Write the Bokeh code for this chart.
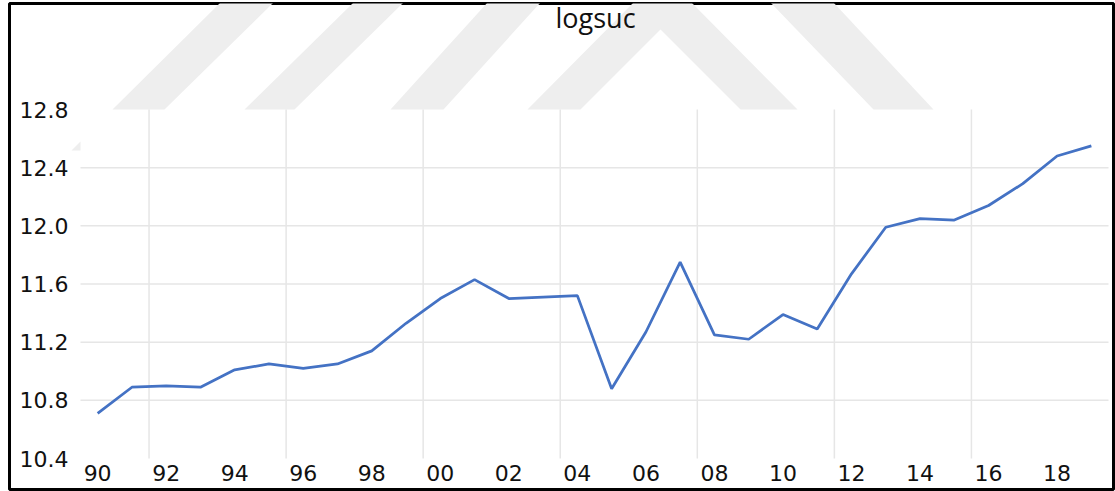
from bokeh.plotting import figure
from bokeh.models import Range1d, FixedTicker, PrintfTickFormatter, PolyAnnotation, ColumnDataSource
from bokeh.embed import file_html
from bokeh.resources import INLINE

# ---- data ----
years = list(range(1990, 2020))
logsuc = [10.71, 10.89, 10.90, 10.89, 11.01, 11.05, 11.02, 11.05, 11.14, 11.33,
          11.50, 11.63, 11.50, 11.51, 11.52, 10.88, 11.27, 11.75, 11.25, 11.22,
          11.39, 11.29, 11.67, 11.99, 12.05, 12.04, 12.14, 12.29, 12.48, 12.55]
x_tick_years = list(range(1990, 2019, 2))
x_tick_labels = ["90", "92", "94", "96", "98", "00", "02", "04",
                 "06", "08", "10", "12", "14", "16", "18"]
y_ticks = [10.4, 10.8, 11.2, 11.6, 12.0, 12.4, 12.8]
title_text = "logsuc"

# ---- layout (canvas pixels) ----
W, H = 1115, 491
box = dict(left=9, top=3, right=1113, bottom=489)        # black chart border = plot frame
inner = dict(left=80, top=109, right=1108, bottom=458)   # gridded plotting area

x0, x1 = years[0] - 0.5, years[-1] + 0.5
y0, y1 = y_ticks[0], y_ticks[-1]
kx = (x1 - x0) / (inner["right"] - inner["left"])
ky = (y1 - y0) / (inner["bottom"] - inner["top"])
x_range = Range1d(x0 - (inner["left"] - box["left"]) * kx, x1 + (box["right"] - inner["right"]) * kx)
y_range = Range1d(y0 - (box["bottom"] - inner["bottom"]) * ky, y1 + (inner["top"] - box["top"]) * ky)

p = figure(width=W, height=H, x_range=x_range, y_range=y_range,
           output_backend="svg", toolbar_location=None,
           min_border_left=box["left"], min_border_right=W - box["right"],
           min_border_top=box["top"], min_border_bottom=H - box["bottom"],
           title=title_text)
p.outline_line_color = "black"
p.outline_line_width = 3
p.background_fill_color = "white"
p.border_fill_color = "white"
p.grid.visible = False

# background watermark of the source page (decoration, canvas pixels)
wm_color = "#eeeeee"
wm_shapes = [
    ([220, 273, 164, 112], [2, 2, 109, 109]),
    ([353, 403, 294, 244], [2, 2, 109, 109]),
    ([487, 540, 443, 390], [2, 2, 109, 109]),
    ([527, 633, 691, 797, 740, 660, 580], [109, 2, 2, 109, 109, 29, 109]),
    ([770, 833, 933, 873], [2, 2, 109, 109]),
    ([80, 80, 71], [141, 150, 150]),
]
for xs, ys in wm_shapes:
    p.add_layout(PolyAnnotation(xs=xs, ys=ys, xs_units="canvas", ys_units="canvas",
                                fill_color=wm_color, fill_alpha=1.0, line_color=None,
                                level="underlay"))

# title
p.title.text_font = "Open Sans"
p.title.text_font_size = "27px"
p.title.text_font_style = "normal"
p.title.text_color = "#111111"
p.title.align = "left"
p.title.offset = 546
p.title.standoff = -64

# axes (labels placed inside the bordered box)
for ax in (p.xaxis[0], p.yaxis[0]):
    ax.axis_line_color = None
    ax.major_tick_line_color = None
    ax.minor_tick_line_color = None
    ax.major_tick_in = 0
    ax.major_tick_out = 0
    ax.major_label_text_font = "DejaVu Sans"
    ax.major_label_text_font_size = "22px"
    ax.major_label_text_color = "#111111"

p.xaxis.ticker = FixedTicker(ticks=x_tick_years)
p.xaxis.major_label_overrides = dict(zip(x_tick_years, x_tick_labels))
p.xaxis.major_label_standoff = -25

p.yaxis.ticker = FixedTicker(ticks=y_ticks)
p.yaxis.formatter = PrintfTickFormatter(format="%.1f")
p.yaxis.major_label_standoff = -59

# grid lines confined to the plotting area
grid_x = [years[0] + 1.5 + 4 * i for i in range(7)]
grid_y = y_ticks[1:-1]
p.segment(x0=grid_x, y0=[y0] * len(grid_x), x1=grid_x, y1=[y1] * len(grid_x),
          line_color="#e6e6e6", line_width=1.5)
p.segment(x0=[x0] * len(grid_y), y0=grid_y, x1=[x1] * len(grid_y), y1=grid_y,
          line_color="#e6e6e6", line_width=1.5)

src = ColumnDataSource(dict(year=years, value=logsuc))
p.line("year", "value", source=src, line_color="#4472C4", line_width=2.75)

open("out.html", "w").write(file_html(p, INLINE))
